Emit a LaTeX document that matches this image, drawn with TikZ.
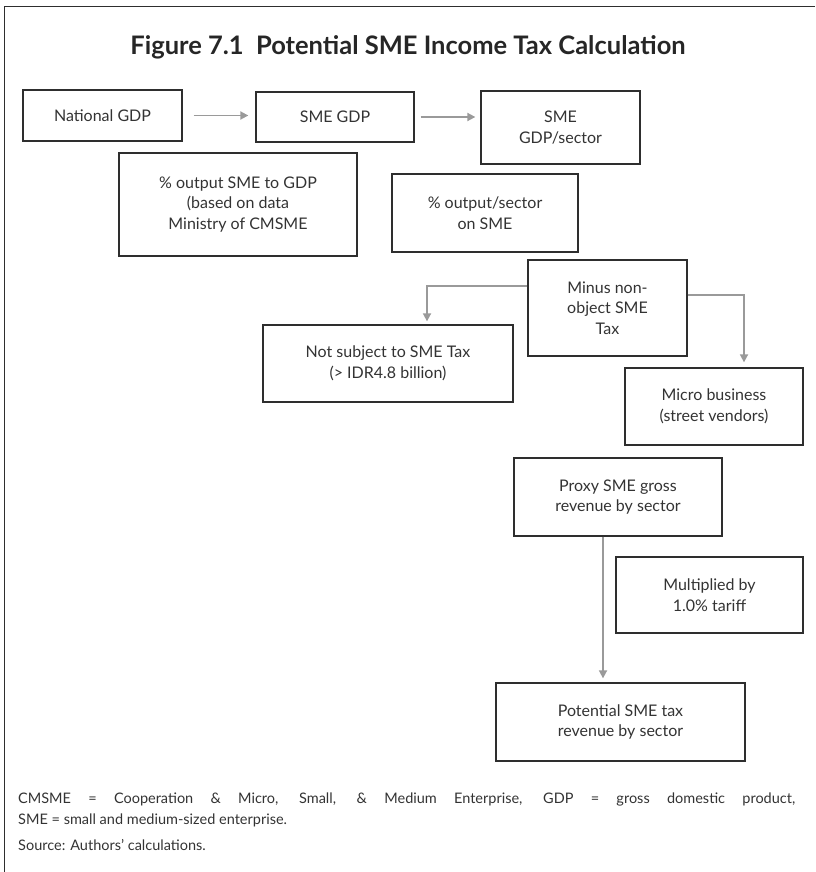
\documentclass[tikz,border=0pt]{standalone}
\usepackage{fontspec}
\setmainfont{Lato}
\usetikzlibrary{arrows.meta}
\definecolor{boxline}{HTML}{2E2E2E}
\definecolor{flowgray}{HTML}{9A9A9A}
\definecolor{textgray}{HTML}{333333}
\newcommand{\drawStep}[5]{
	\node[stepbox, minimum width=#3, minimum height=#4] (#1) at (#2) {#5};
}
\tikzset{
	stepbox/.style={draw=boxline, line width=1.3pt, align=center, text=textgray,
		font=\fontsize{16}{20.5}\selectfont, inner sep=2pt},
	flow/.style={draw=flowgray, line width=1.7pt, -{Triangle[length=8pt,width=8pt]}},
}
\begin{document}
\begin{tikzpicture}[x=1pt,y=-1pt]

		\useasboundingbox (0,0) rectangle (815,872);
		\draw[boxline, line width=0.8pt] (815,6) -- (4,6) -- (4,872);

		\node[font=\bfseries\fontsize{25.5}{30}\selectfont, text=black!85] (title) at (408,47)
			{Figure 7.1\ \ Potential SME Income Tax Calculation};

		\drawStep{natgdp}{102.5,115.5}{159pt}{51pt}{National GDP}
		\drawStep{smegdp}{335,117}{158pt}{50pt}{SME GDP}
		\drawStep{smesector}{560.5,127.5}{159pt}{73pt}{SME\\GDP/sector}
		\drawStep{pctgdp}{238,204.5}{238pt}{103pt}{\% output SME to GDP\\(based on data\\Ministry of CMSME}
		\drawStep{pctsector}{485,213}{186pt}{78pt}{\% output/sector\\on SME}
		\drawStep{minus}{607.5,308}{159pt}{96pt}{Minus non-\\object SME\\Tax}
		\drawStep{notsubj}{388,363.5}{250pt}{77pt}{Not subject to SME Tax\\(> IDR4.8 billion)}
		\drawStep{micro}{714,406.5}{178pt}{77pt}{Micro business\\(street vendors)}
		\drawStep{proxy}{618,497}{208pt}{78pt}{Proxy SME gross\\revenue by sector}
		\drawStep{mult}{709.5,595}{187pt}{76pt}{Multiplied by\\1.0\% tariff}
		\drawStep{potential}{620.5,722}{249pt}{78pt}{Potential SME tax\\revenue by sector}

		\draw[flow, shorten <=11pt, shorten >=7pt] (natgdp.east) -- (natgdp.east -| smegdp.west);
		\draw[flow, shorten <=6pt, shorten >=5pt] (smegdp.east) -- (smegdp.east -| smesector.west);
		\draw[flow, shorten >=3pt] ([yshift=22pt]minus.west) -| ([xshift=39pt]notsubj.north);
		\draw[flow, shorten >=5pt] ([yshift=13pt]minus.east) -| ([xshift=30pt]micro.north);
		\draw[flow, shorten >=4pt] ([xshift=-15pt]proxy.south) -- ([xshift=-15pt]proxy.south |- potential.north);

		\node[anchor=north west, text width=777pt, align=justify, inner sep=0pt, text=textgray,
			font=\fontsize{14.5}{21}\selectfont] (notes) at (18,793)
			{CMSME = Cooperation \& Micro, Small, \& Medium Enterprise, GDP = gross domestic product,\linebreak
			SME = small and medium-sized enterprise.\par\vspace{5pt}
			Source: Authors' calculations.};

	\end{tikzpicture}
\end{document}
